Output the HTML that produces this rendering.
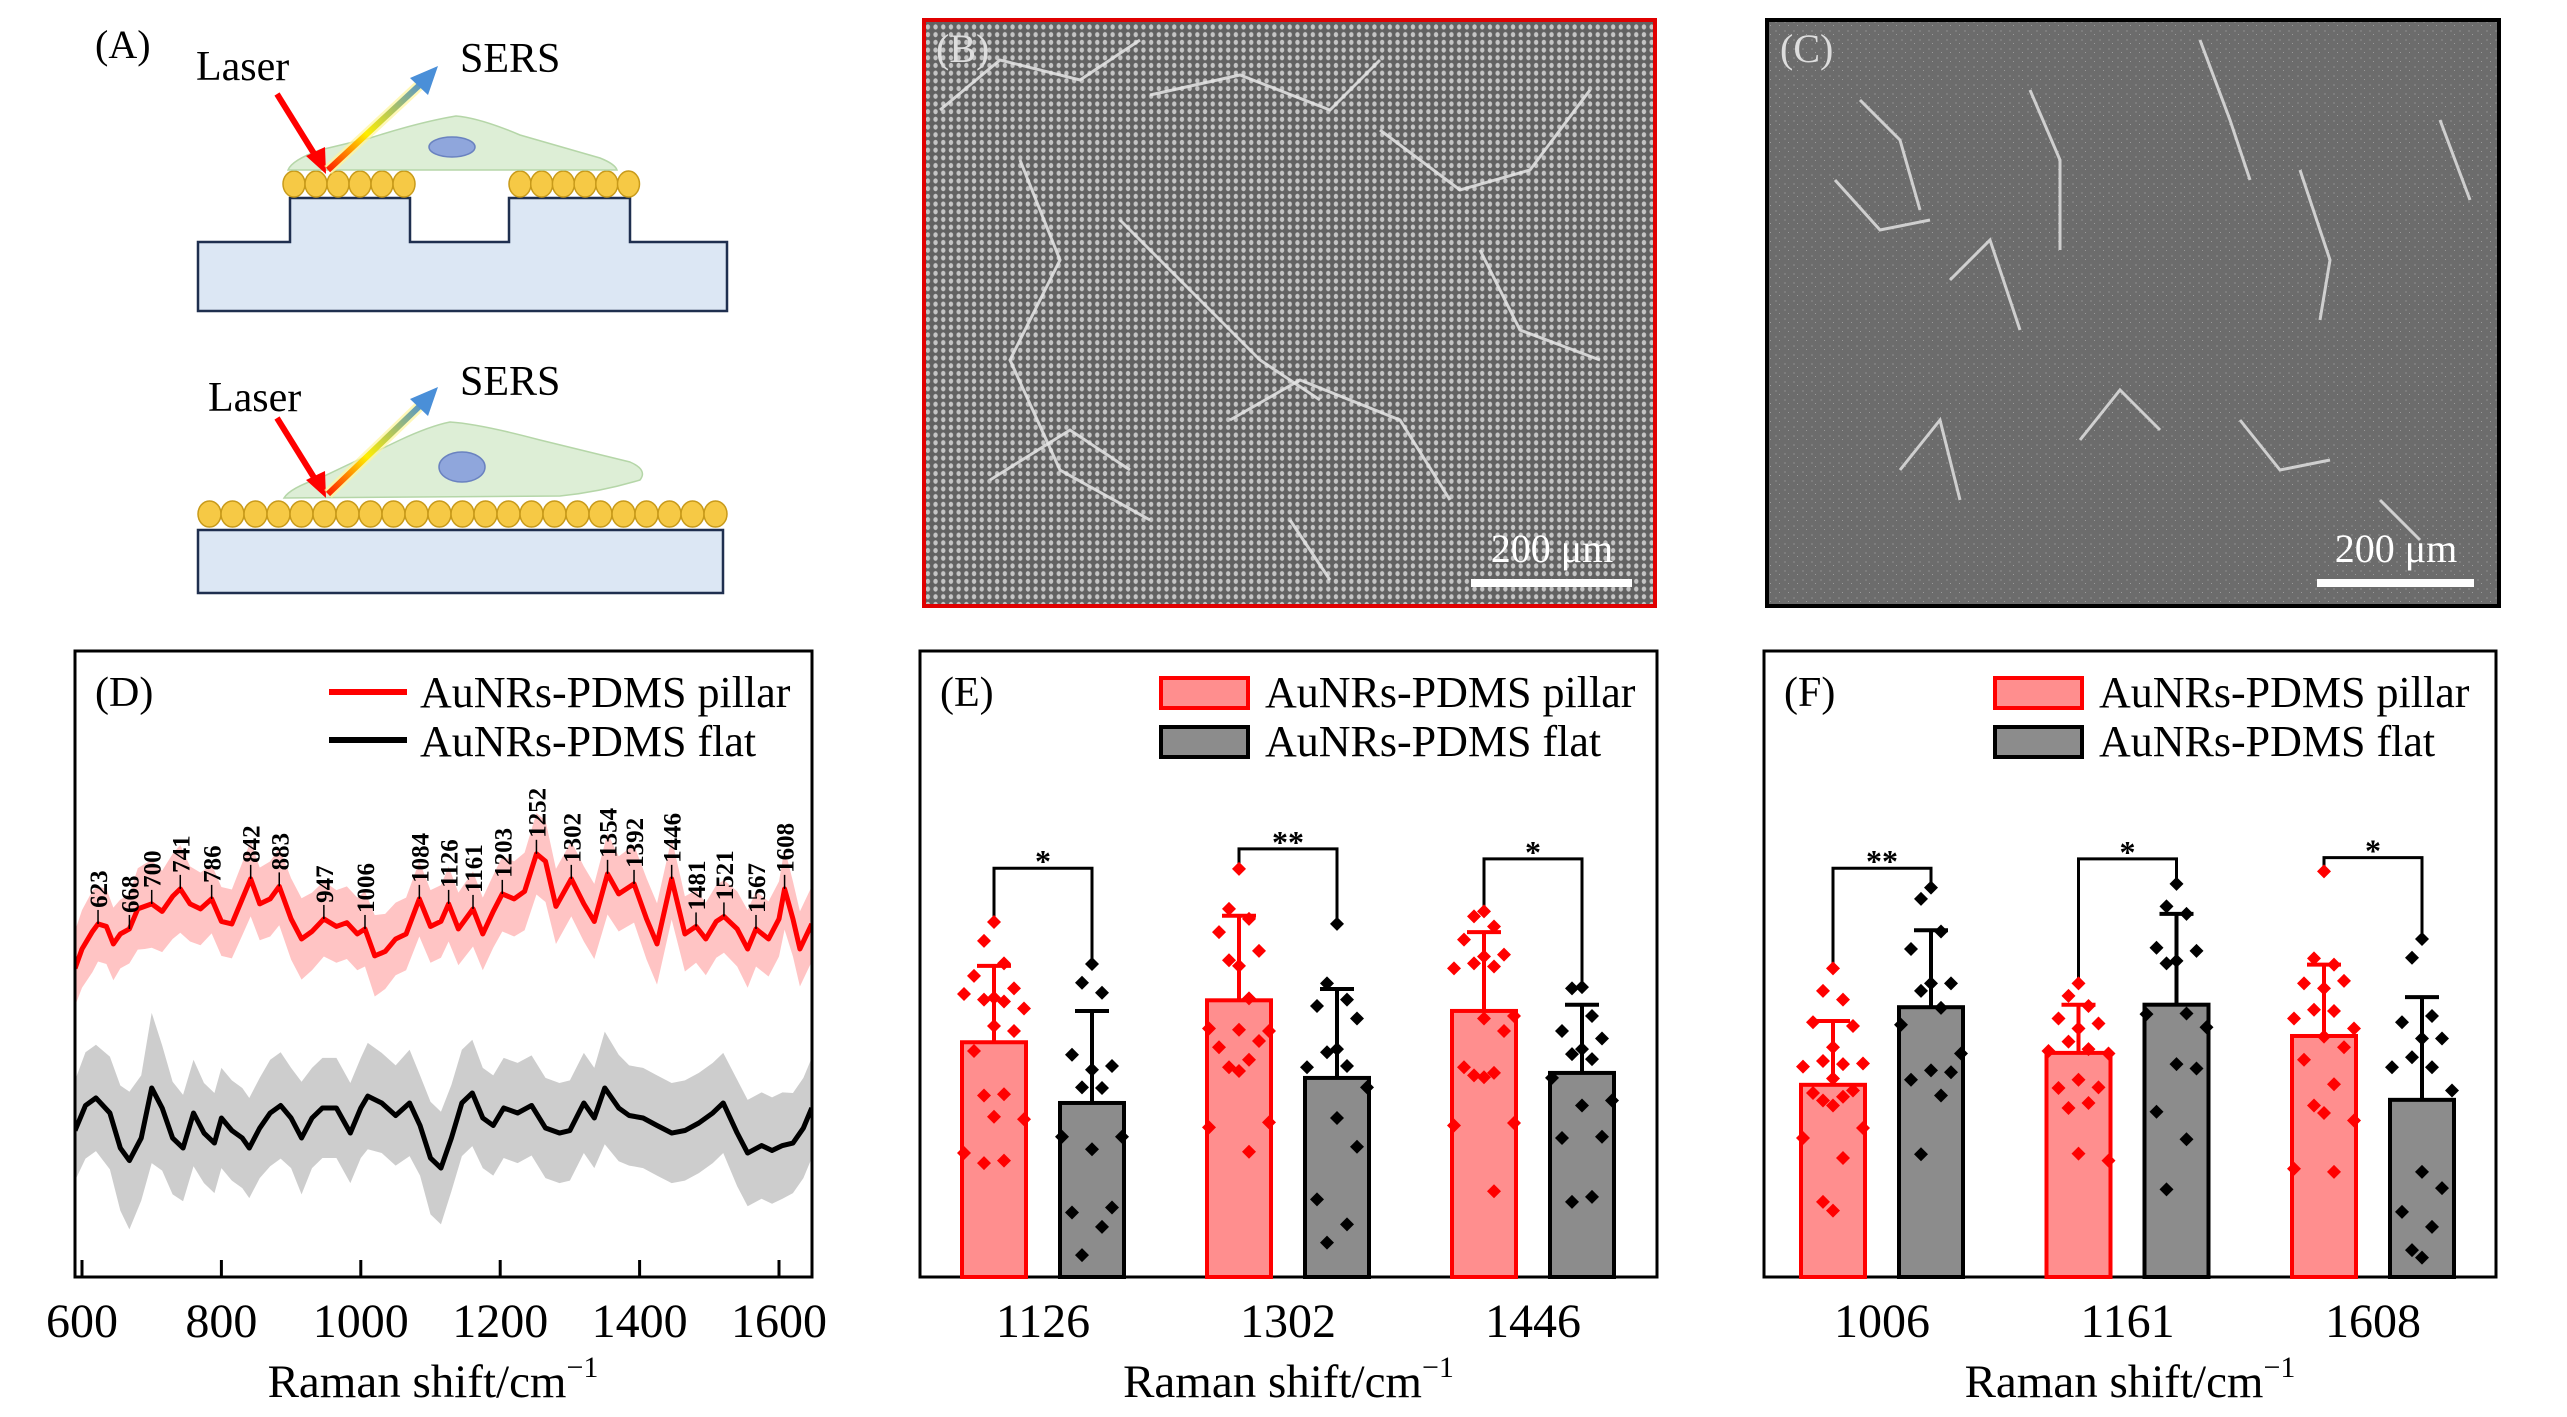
<!DOCTYPE html>
<html><head><meta charset="utf-8">
<style>
html,body{margin:0;padding:0;background:#fff;}
svg{display:block;font-family:"Liberation Serif","DejaVu Serif",serif;}
</style></head>
<body>
<svg id="fig" width="2567" height="1417" viewBox="0 0 2567 1417" xmlns="http://www.w3.org/2000/svg">
<defs>
  <linearGradient id="sersGrad" x1="0" y1="1" x2="1" y2="0">
    <stop offset="0" stop-color="#ff2000"/>
    <stop offset="0.4" stop-color="#ffee00"/>
    <stop offset="1" stop-color="#4a8fd8"/>
  </linearGradient>
  <pattern id="pillarDots" width="7.7" height="7.7" patternUnits="userSpaceOnUse">
    <rect width="7.7" height="7.7" fill="#555"/>
    <ellipse cx="3.85" cy="3.85" rx="2.2" ry="2.6" fill="#d8d8d8"/>
  </pattern>
  <pattern id="flatNoise" width="9" height="9" patternUnits="userSpaceOnUse">
    <rect width="9" height="9" fill="#6c6c6c"/>
    <rect x="2" y="3" width="2" height="2" fill="#7d7d7d"/>
    <rect x="6" y="7" width="1" height="1" fill="#9a9a9a"/>
  </pattern>
  <clipPath id="clipD"><rect x="75" y="651" width="737" height="626"/></clipPath>
</defs>

<!-- Panel A -->
<g>
  <text x="95" y="58" font-size="40">(A)</text>
  <path d="M198,242 L290,242 L290,198 L410,198 L410,242 L509,242 L509,198 L630,198 L630,242 L727,242 L727,311 L198,311 Z" fill="#dce7f4" stroke="#1f2f4f" stroke-width="2.5"/>
  <g id="topParticles"></g>
  <path d="M288,170 Q292,160 320,150 L370,138 Q420,122 456,116 Q480,118 520,135 L600,158 Q615,164 617,170 Z" fill="#d7ebcf" fill-opacity="0.85" stroke="#b5d6a8" stroke-width="1.5"/>
  <ellipse cx="452" cy="147" rx="23" ry="10" fill="#8fa6dc" stroke="#6a82c0" stroke-width="1.5"/>
  <text x="196" y="80" font-size="42">Laser</text>
  <text x="460" y="72" font-size="42">SERS</text>
  <line x1="277" y1="94" x2="318" y2="160" stroke="#ff0000" stroke-width="6"/>
  <polygon points="326,174 306,156 325,147" fill="#ff0000"/>
  <line x1="328" y1="170" x2="425" y2="80" stroke="#fff59a" stroke-width="11" stroke-opacity="0.7"/>
  <line x1="328" y1="170" x2="425" y2="80" stroke="url(#sersGrad)" stroke-width="6"/>
  <polygon points="438,66 410,78 428,95" fill="#4a8fd8"/>

  <rect x="198" y="530" width="525" height="63" fill="#dce7f4" stroke="#1f2f4f" stroke-width="2.5"/>
  <g id="botParticles"></g>
  <path d="M284,498 Q290,488 320,478 L400,440 Q430,426 450,422 Q480,424 540,440 L630,462 Q648,470 640,480 Q600,492 560,496 Z" fill="#d7ebcf" fill-opacity="0.85" stroke="#b5d6a8" stroke-width="1.5"/>
  <ellipse cx="462" cy="467" rx="23" ry="15" fill="#8fa6dc" stroke="#6a82c0" stroke-width="1.5"/>
  <text x="208" y="411" font-size="42">Laser</text>
  <text x="460" y="395" font-size="42">SERS</text>
  <line x1="277" y1="418" x2="318" y2="484" stroke="#ff0000" stroke-width="6"/>
  <polygon points="326,498 306,480 325,471" fill="#ff0000"/>
  <line x1="328" y1="494" x2="425" y2="401" stroke="#fff59a" stroke-width="11" stroke-opacity="0.7"/>
  <line x1="328" y1="494" x2="425" y2="401" stroke="url(#sersGrad)" stroke-width="6"/>
  <polygon points="438,387 410,399 428,416" fill="#4a8fd8"/>
</g>

<!-- Panel B -->
<g>
  <rect x="924" y="20" width="731" height="586" fill="url(#pillarDots)"/>
  <rect x="924" y="20" width="731" height="586" fill="#8a8a8a" fill-opacity="0.25"/>
  <g stroke="#e6e6e6" stroke-width="3" fill="none" stroke-opacity="0.85">
    <path d="M940,110 L1000,60 L1080,80 L1140,40"/>
    <path d="M1020,160 L1060,260 L1010,360 L1060,470 L1150,520"/>
    <path d="M1150,95 L1240,75 L1330,110 L1380,60"/>
    <path d="M1120,220 L1200,300 L1260,360 L1320,400"/>
    <path d="M1380,130 L1460,190 L1530,170 L1590,90"/>
    <path d="M1230,420 L1300,380 L1400,420 L1450,500"/>
    <path d="M990,480 L1070,430 L1130,470"/>
    <path d="M1480,250 L1520,330 L1600,360"/>
    <path d="M1290,520 L1330,580"/>
  </g>
  <rect x="924" y="20" width="731" height="586" fill="none" stroke="#e00000" stroke-width="4"/>
  <text x="936" y="62" font-size="40" fill="#ddd">(B)</text>
  <rect x="1471" y="579" width="161" height="8" fill="#fff"/>
  <text x="1552" y="562" font-size="40" fill="#fff" text-anchor="middle">200 μm</text>
</g>

<!-- Panel C -->
<g>
  <rect x="1767" y="20" width="732" height="586" fill="url(#flatNoise)"/>
  <g stroke="#e8e8e8" stroke-width="3" fill="none" stroke-opacity="0.8">
    <path d="M1835,180 L1880,230 L1930,220"/>
    <path d="M1860,100 L1900,140 L1920,210"/>
    <path d="M2030,90 L2060,160 L2060,250"/>
    <path d="M1950,280 L1990,240 L2020,330"/>
    <path d="M2200,40 L2230,120 L2250,180"/>
    <path d="M2300,170 L2330,260 L2320,320"/>
    <path d="M1900,470 L1940,420 L1960,500"/>
    <path d="M2080,440 L2120,390 L2160,430"/>
    <path d="M2240,420 L2280,470 L2330,460"/>
    <path d="M2380,500 L2420,540"/>
    <path d="M2440,120 L2470,200"/>
  </g>
  <rect x="1767" y="20" width="732" height="586" fill="none" stroke="#000" stroke-width="4"/>
  <text x="1780" y="62" font-size="40" fill="#ddd">(C)</text>
  <rect x="2317" y="579" width="157" height="8" fill="#fff"/>
  <text x="2396" y="562" font-size="40" fill="#fff" text-anchor="middle">200 μm</text>
</g>

<g id="panelD"></g>
<g id="panelE"></g>
<g id="panelF"></g>

<script>
// ---------- Panel D data ----------
const redX = [590,600,615,623,635,645,655,668,680,690,700,715,730,741,755,770,786,800,815,830,842,855,870,883,900,915,930,947,965,980,995,1006,1020,1035,1050,1065,1084,1100,1115,1126,1140,1161,1175,1190,1203,1220,1235,1252,1265,1280,1302,1320,1335,1354,1370,1392,1410,1425,1446,1465,1481,1495,1510,1521,1540,1555,1567,1585,1600,1608,1620,1630,1647];
const redY = [49.3,52.4,55.2,56.4,56,53.2,54.8,55.6,58.8,59.2,59.6,58.4,60.8,62,59.6,58.8,60.4,56.8,56.4,60.4,63.6,59.6,60.4,62.4,57.2,54,55.2,57.2,56,56.6,54.8,55.6,51.3,52,54,54.8,60.4,56,56.8,59.6,55.6,58.8,54.8,58.4,61.2,60.4,61.6,67.6,66.4,59.2,63.6,59.6,56.8,64.4,61.2,62.8,57.2,53.2,63.6,54.8,56,54,56.8,57.6,55.6,52.4,55.6,54,57.2,62,57.2,52.4,56.4];
const redSd = [6,6.2,6.5,6,6,5.8,5.5,5.5,6.5,6.8,7,6.5,6.8,7,6,5.8,5.5,5.5,5.5,5.8,6,5.8,6,6.2,6.5,6.5,6.2,6,5.8,5.8,5.8,6,6.5,6,5.8,5.8,6,5.8,5.8,6,5.8,6,5.8,5.8,6,6,6.2,6.5,6.5,6,6,6,6,6.5,6,6.2,6.5,6.5,6.5,6,5.8,5.8,5.8,5.8,6,6.2,6,6,6,6.5,6,6,6];
const blkX = [590,605,620,640,655,668,685,700,715,730,745,760,775,790,800,815,830,840,855,870,885,900,915,930,945,965,985,1000,1010,1030,1050,1070,1085,1100,1115,1130,1145,1160,1175,1190,1205,1225,1245,1265,1285,1300,1320,1335,1350,1370,1385,1405,1425,1446,1465,1485,1505,1520,1540,1555,1575,1590,1605,1620,1635,1647];
const blkY = [23.4,27.4,28.6,26.2,20.6,18.6,22.2,30.2,27,22.2,20.6,26.2,23,21.4,25.4,23.4,22.2,20.6,23.8,26.2,27.4,25.4,22.2,25.4,27,27,23,27,28.9,27.8,25.8,27.8,24.2,19,17.4,22.2,27.8,29.4,25.4,24.2,27,26.2,27.4,23.8,23,23.4,27.8,25.4,30.2,27,25.8,25.4,24.2,23,23.4,24.6,26.2,27.8,23,19.8,21,20.2,21,21.4,23.8,27];
const blkSd = [8,8.5,8.5,9,10,11,10,12,10,9,8.5,8.5,8,8,8,8,8,8,8,8.5,8.5,8,9,8,8,8,8,8,8.5,8,8,8.5,8,9,9,8.5,8.5,8.5,8,8,8,8,8,8,8,8,8,8,9,8.5,8,8,8,8,8,8,8,8,8.5,8.5,8.5,8.5,8.5,8,8,8];
const peakLabels = [623,668,700,741,786,842,883,947,1006,1084,1126,1161,1203,1252,1302,1354,1392,1446,1481,1521,1567,1608];
const xTicksD = [600,800,1000,1200,1400,1600];

// ---------- Panel E data ----------
const catE = ['1126','1302','1446'];
const pillarE = [37.5,44.2,42.5];
const flatE = [27.8,31.8,32.6];
const pillarSdE = [12.2,13.5,12.6];
const flatSdE = [14.7,14.2,10.9];
const sigE = ['*','**','*'];
const bracketE = [65.3,68.4,66.8];
const pillarPtsE = [
 [56.7,53.7,50.1,48.1,46.1,44.6,44.3,44,45.2,42.9,40.1,39.3,36.1,29.2,29,25.6,25.2,19.8,18.6,18.2],
 [65.2,58.8,57.2,55.1,52.1,49.7,50.6,44.5,39.7,39.3,39.5,37.7,36.7,34.7,33.5,32.9,24.7,23.9,20],
 [58.4,57.6,56,53.9,51.5,51.2,50.1,49.6,49.3,41.7,41.3,39.3,33.5,32.6,32.2,31.9,24.6,24.2,13.7]];
const flatPtsE = [
 [50,47,45.4,35.5,33.7,33.1,30.3,30.2,22.4,22.4,20.4,11.1,10.3,8.0,3.5],
 [56.4,46.9,44.3,43.3,41.3,36.4,35.9,33.7,33.5,30.3,25.4,20.8,12.4,8.4,5.5],
 [46.3,46.1,41.7,39.3,38.1,36.4,35.6,34.8,31.8,28.2,27.4,22.4,22.2,12.8,12]];

// ---------- Panel F data ----------
const catF = ['1006','1161','1608'];
const pillarF = [30.7,35.8,38.5];
const flatF = [43.1,43.5,28.3];
const pillarSdF = [10.2,7.7,11.4];
const flatSdF = [12.3,14.5,16.4];
const sigF = ['**','*','*'];
const bracketF = [65.3,66.8,67.0];
const pillarPtsF = [
 [49.3,45.7,44.3,40.7,40.1,36.7,34.5,34,33.6,34.1,31.7,29.8,29.4,28.8,28.2,27.4,23.8,22.2,19,12,10.6],
 [46.9,44.9,43.3,41.3,40.5,39.7,37.6,36.4,36.1,35.7,31.5,30.3,30.2,27.8,27,19.7,18.6],
 [64.8,50.9,49.9,46.9,47.3,46.1,42.7,42.5,41.3,39.7,38.4,36.7,34.7,30.8,27.4,26.2,25,17.3,16.8]];
const flatPtsF = [
 [62.2,60.4,55.2,52.4,46.9,46.9,45.7,43,40.3,35.7,33,32.7,31.5,29,19.6],
 [62.8,59.2,58,52.6,52.1,50.5,50.1,42.1,42,39.9,34,33.3,26.4,22,14],
 [54.0,51,41.7,40.7,38.1,38.1,35.1,33.5,33.5,29.8,16.8,14.2,10.4,8,4.3,3.1]];

const NS = 'http://www.w3.org/2000/svg';
function mk(parent, tag, attrs, text) {
  const e = document.createElementNS(NS, tag);
  for (const k in attrs) e.setAttribute(k, attrs[k]);
  if (text !== undefined) e.textContent = text;
  parent.appendChild(e);
  return e;
}
const yV = v => 1277 - v * 6.26;
function axisTitle(g, x) {
  const ti = mk(g,'text',{x:x,y:1397,'font-size':47,'text-anchor':'middle'});
  
  
  mk(ti,'tspan',{}, 'Raman shift/cm');
  mk(ti,'tspan',{'font-size':30,dy:-20}, '\u2212' + '1');
}

// Panel A particles
(function(){
  const tp = document.getElementById('topParticles');
  for (let i = 0; i < 6; i++) { const e = mk(tp,'ellipse',{cx:294+i*22,cy:184,rx:11,ry:13,fill:'#f6c945',stroke:'#c89a1a','stroke-width':1.5});   }
  for (let i = 0; i < 6; i++) { const e = mk(tp,'ellipse',{cx:520+i*21.7,cy:184,rx:11,ry:13,fill:'#f6c945',stroke:'#c89a1a','stroke-width':1.5});   }
  const bp = document.getElementById('botParticles');
  for (let i = 0; i < 23; i++) { const e = mk(bp,'ellipse',{cx:209.5+i*23,cy:514,rx:11.5,ry:13,fill:'#f6c945',stroke:'#c89a1a','stroke-width':1.5});   }
})();

// ---------- Panel D ----------
(function(){
  const g = document.getElementById('panelD');
  const xD = cm => 82 + (cm - 600) * 0.697;
  const clip = mk(g,'g',{'clip-path':'url(#clipD)'});
  function band(xs, ys, sds, fill, name) {
    let up = xs.map((x,i)=>xD(x)+','+yV(ys[i]+(sds[i]||6)));
    let lo = xs.map((x,i)=>xD(x)+','+yV(ys[i]-(sds[i]||6))).reverse();
    const p = mk(clip,'polygon',{points:up.concat(lo).join(' '),fill:fill});
    
    
  }
  band(redX, redY, redSd, '#ffc4c4', 'pillar-sd-band');
  band(blkX, blkY, blkSd, '#cdcdcd', 'flat-sd-band');
  const lr = mk(clip,'polyline',{points:redX.map((x,i)=>xD(x)+','+yV(redY[i])).join(' '),fill:'none',stroke:'#ff0000','stroke-width':5,'stroke-linejoin':'round'});
  
  
  const lb = mk(clip,'polyline',{points:blkX.map((x,i)=>xD(x)+','+yV(blkY[i])).join(' '),fill:'none',stroke:'#000','stroke-width':5,'stroke-linejoin':'round'});
  
  
  function interp(xs, ys, x) {
    for (let i = 0; i < xs.length-1; i++) if (x >= xs[i] && x <= xs[i+1]) return ys[i] + (ys[i+1]-ys[i])*(x-xs[i])/(xs[i+1]-xs[i]);
    return ys[ys.length-1];
  }
  peakLabels.forEach(p => {
    const x = xD(p), y = yV(interp(redX, redY, p));
    mk(g,'line',{x1:x,y1:y,x2:x,y2:y-14,stroke:'#000','stroke-width':1.5});
    const t = mk(g,'text',{x:0,y:0,'font-size':25,'font-weight':'bold',transform:`translate(${x+9},${y-16}) rotate(-90)`}, String(p));
    
    
  });
  const fr = mk(g,'rect',{x:75,y:651,width:737,height:626,fill:'none',stroke:'#000','stroke-width':3});
  
  
  xTicksD.forEach(t => {
    const x = xD(t);
    mk(g,'line',{x1:x,y1:1277,x2:x,y2:1260,stroke:'#000','stroke-width':3});
    const lt = mk(g,'text',{x:x,y:1337,'font-size':48,'text-anchor':'middle'}, String(t));
    
    
  });
  axisTitle(g, 433);
  const pl = mk(g,'text',{x:95,y:706,'font-size':42}, '(D)');
  
  
  const l1 = mk(g,'line',{x1:329,y1:692,x2:407,y2:692,stroke:'#ff0000','stroke-width':6});
  
  
  const t1 = mk(g,'text',{x:420,y:707,'font-size':44}, 'AuNRs-PDMS pillar');
  
  
  const l2 = mk(g,'line',{x1:329,y1:740,x2:407,y2:740,stroke:'#000','stroke-width':6});
  
  
  const t2 = mk(g,'text',{x:420,y:756,'font-size':44}, 'AuNRs-PDMS flat');
  
  
})();

// ---------- Bar panels ----------
function barPanel(gid, frameX, frameW, c0, step, label, legX, cats, pv, fv, psd, fsd, sig, brk, ppts, fpts) {
  const g = document.getElementById(gid);
  const off = 49, bw = 64;
  const jit = [0,-1,1,-2,2,0,-1,1,-3,3,0,2,-2,1,-1,0,3,-3,1,-1,0];
  const fr = mk(g,'rect',{x:frameX,y:651,width:frameW,height:626,fill:'none',stroke:'#000','stroke-width':3});
  
  
  cats.forEach((c, i) => {
    const cx = c0 + i*step;
    const xr = cx - off, xb = cx + off;
    const br = mk(g,'rect',{x:xr-bw/2,y:yV(pv[i]),width:bw,height:1277-yV(pv[i]),fill:'#ff8e8e',stroke:'#ff0000','stroke-width':4});
    
    
    const bb = mk(g,'rect',{x:xb-bw/2,y:yV(fv[i]),width:bw,height:1277-yV(fv[i]),fill:'#8c8c8c',stroke:'#000','stroke-width':4});
    
    
    [[xr,pv[i],psd[i],'#ff0000'],[xb,fv[i],fsd[i],'#000']].forEach(([x,v,s,col])=>{
      mk(g,'line',{x1:x,y1:yV(v),x2:x,y2:yV(v+s),stroke:col,'stroke-width':4});
      mk(g,'line',{x1:x-17,y1:yV(v+s),x2:x+17,y2:yV(v+s),stroke:col,'stroke-width':4});
    });
    const yb = yV(brk[i]);
    const lEnd = yV(Math.max(...ppts[i])) - 4, rEnd = yV(Math.max(...fpts[i])) - 4;
    const bk = mk(g,'polyline',{points:`${xr},${lEnd} ${xr},${yb} ${xb},${yb} ${xb},${rEnd}`,fill:'none',stroke:'#000','stroke-width':3});
    
    
    const st = mk(g,'text',{x:cx,y:yb+4,'font-size':32,'font-weight':'bold','text-anchor':'middle'}, sig[i]);
    
    
    [[xr,ppts[i],'#ff0000'],[xb,fpts[i],'#000']].forEach(([x,pts,col])=>{
      pts.forEach((v,k)=>{
        const px = x + jit[k % jit.length]*10, py = yV(v);
        const d = mk(g,'polygon',{points:`${px},${py-7} ${px+7},${py} ${px},${py+7} ${px-7},${py}`,fill:col});
        
        
      });
    });
    const tl = mk(g,'text',{x:cx,y:1337,'font-size':48,'text-anchor':'middle'}, c);
    
    
  });
  const pl = mk(g,'text',{x:frameX+20,y:706,'font-size':42}, label);
  
  
  const r1 = mk(g,'rect',{x:legX,y:678,width:87,height:30,fill:'#ff8e8e',stroke:'#ff0000','stroke-width':4});
  
  
  const t1 = mk(g,'text',{x:legX+104,y:707,'font-size':44}, 'AuNRs-PDMS pillar');
  
  
  const r2 = mk(g,'rect',{x:legX,y:727,width:87,height:30,fill:'#8c8c8c',stroke:'#000','stroke-width':4});
  
  
  const t2 = mk(g,'text',{x:legX+104,y:756,'font-size':44}, 'AuNRs-PDMS flat');
  
  
  axisTitle(g, frameX+frameW/2);
}
barPanel('panelE', 920, 737, 1043, 245, '(E)', 1161, catE, pillarE, flatE, pillarSdE, flatSdE, sigE, bracketE, pillarPtsE, flatPtsE);
barPanel('panelF', 1764, 732, 1882, 245.5, '(F)', 1995, catF, pillarF, flatF, pillarSdF, flatSdF, sigF, bracketF, pillarPtsF, flatPtsF);
</script>
</svg>
</body></html>
